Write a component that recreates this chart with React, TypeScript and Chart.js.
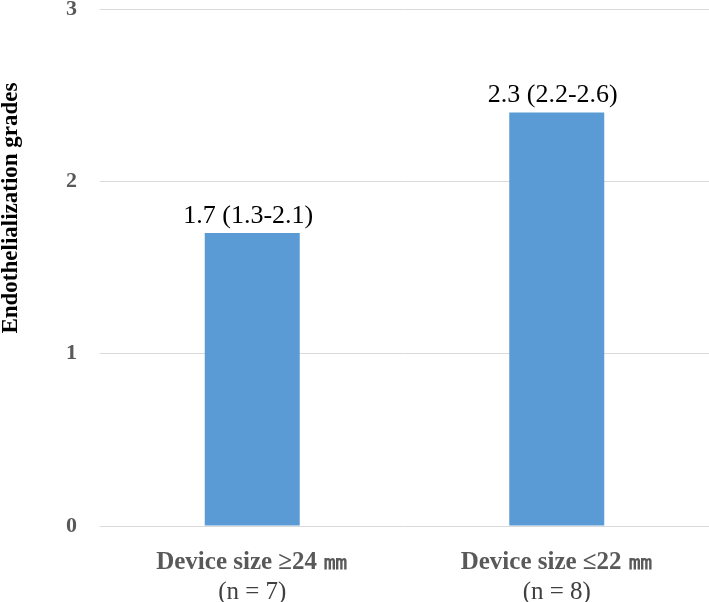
import React, { useEffect, useRef } from "react";
import { Chart, registerables } from "chart.js";

Chart.register(...registerables);

const categories = ["Device size ≥24 ㎜", "Device size ≤22 ㎜"];
const sampleSizes = ["(n = 7)", "(n = 8)"];
const values = [1.7, 2.4];
const valueLabels = ["1.7 (1.3-2.1)", "2.3 (2.2-2.6)"];
const yTicks = [0, 1, 2, 3];
const yTitle = "Endothelialization grades";

const SERIF = '"Liberation Serif", "Times New Roman", "DejaVu Serif", serif';

const labelsPlugin = {
  id: "customLabels",
  afterDraw(chart: any) {
    const ctx = chart.ctx;
    const area = chart.chartArea;
    const xScale = chart.scales.x;
    ctx.save();
    // y title
    ctx.save();
    ctx.translate(11, area.top + (area.bottom - area.top) * 0.385);
    ctx.rotate(-Math.PI / 2);
    ctx.font = `bold 23px ${SERIF}`;
    ctx.fillStyle = "#000000";
    ctx.textAlign = "center";
    ctx.textBaseline = "middle";
    ctx.fillText(yTitle, 0, 0);
    ctx.restore();
    // x labels
    ctx.textAlign = "center";
    ctx.textBaseline = "middle";
    categories.forEach((c, i) => {
      const x = xScale.getPixelForValue(i);
      ctx.font = `bold 25px ${SERIF}`;
      ctx.fillStyle = "#595959";
      ctx.fillText(c, x, area.bottom + 37);
      ctx.font = `25px ${SERIF}`;
      ctx.fillStyle = "#404040";
      ctx.fillText(sampleSizes[i], x, area.bottom + 66);
    });
    // value labels
    const meta = chart.getDatasetMeta(0);
    ctx.font = `26px ${SERIF}`;
    ctx.fillStyle = "#000000";
    ctx.textBaseline = "alphabetic";
    meta.data.forEach((bar: any, i: number) => {
      ctx.fillText(valueLabels[i], bar.x - 4, bar.y - 10);
    });
    ctx.restore();
  },
};

export default function App() {
  const ref = useRef<HTMLCanvasElement | null>(null);
  useEffect(() => {
    if (!ref.current) return;
    const chart = new Chart(ref.current, {
      type: "bar",
      data: {
        labels: categories,
        datasets: [
          {
            data: values,
            backgroundColor: "#5B9BD5",
            borderWidth: 0,
            barPercentage: 0.312,
            categoryPercentage: 1,
          },
        ],
      },
      options: {
        responsive: false,
        animation: false,
        maintainAspectRatio: false,
        layout: { padding: { top: 9, right: 0, left: 0, bottom: 0 } },
        plugins: {
          legend: { display: false },
          tooltip: { enabled: false },
        },
        scales: {
          x: {
            grid: { display: false },
            border: { display: false },
            ticks: { display: false },
            afterFit(scale: any) {
              scale.height = 76;
              scale.paddingLeft = 0;
              scale.paddingRight = 0;
            },
          },
          y: {
            min: 0,
            max: 3,
            afterBuildTicks(scale: any) {
              scale.ticks = yTicks.map((v) => ({ value: v }));
            },
            grid: { color: "#D9D9D9", lineWidth: 1, drawTicks: false },
            border: { display: false },
            ticks: {
              padding: 23,
              color: "#595959",
              font: { family: SERIF, size: 22, weight: "bold" },
            },
            afterFit(scale: any) {
              scale.width = 100;
              scale.paddingTop = 0;
              scale.paddingBottom = 0;
            },
          },
        },
      },
      plugins: [labelsPlugin],
    });
    return () => chart.destroy();
  }, []);
  return (
    <div style={{ position: "fixed", left: 0, top: 0, width: 709, height: 602, background: "#fff" }}>
      <canvas ref={ref} width={709} height={602} style={{ display: "block" }} />
    </div>
  );
}
